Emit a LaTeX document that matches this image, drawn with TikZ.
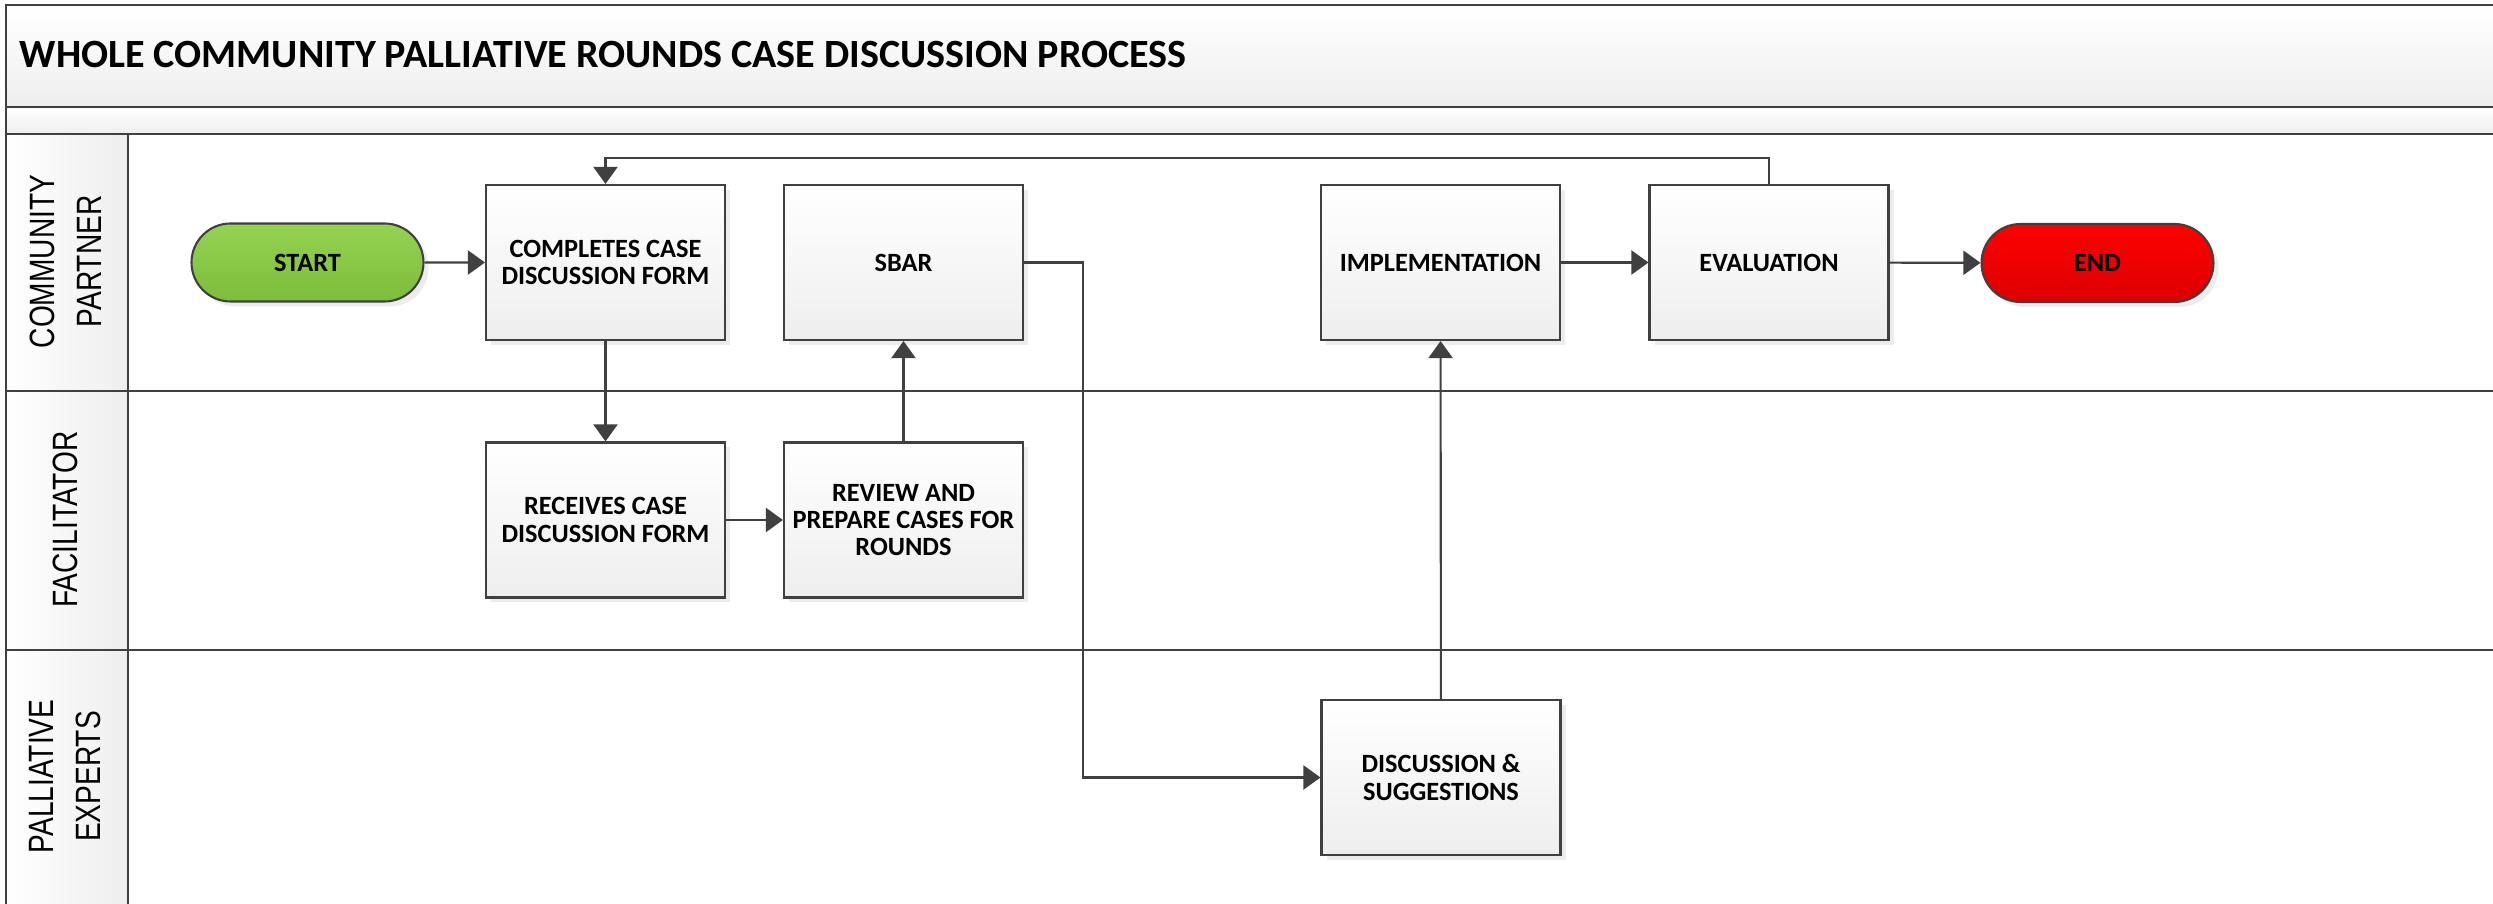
\documentclass[tikz,border=0pt]{standalone}
\usepackage{amsmath}
\usepackage{fontspec}
\setmainfont{Carlito}
\newfontfamily\lanefont[FakeStretch=0.8]{Liberation Sans}
\usepackage{tikz}
\usetikzlibrary{arrows.meta,shapes.misc,shadows}

\definecolor{linegray}{RGB}{64,64,64}
\definecolor{headgray}{RGB}{238,238,238}
\definecolor{startgreen}{RGB}{148,210,82}
\definecolor{startgreendk}{RGB}{126,188,60}
\definecolor{endred}{RGB}{255,0,0}
\definecolor{endreddk}{RGB}{220,0,0}

\tikzset{
  procbox/.style={draw=linegray, line width=0.6pt, top color=white, bottom color=headgray,
    minimum width=2.39cm, minimum height=1.55cm, align=center, inner sep=1pt,
    font=\bfseries\fontsize{7.5}{7.8}\selectfont,
    drop shadow={shadow xshift=0.05cm, shadow yshift=-0.05cm, opacity=0.15}},
  termnode/.style={rounded rectangle, draw=linegray, line width=0.6pt,
    minimum width=2.39cm, minimum height=0.78cm, inner sep=1pt,
    font=\bfseries\fontsize{7.5}{7.8}\selectfont,
    drop shadow={shadow xshift=0.05cm, shadow yshift=-0.05cm, opacity=0.15}},
  flow/.style={draw=linegray, line width=0.6pt, -{Triangle[length=1.7mm,width=2.4mm]}},
  laneline/.style={draw=linegray, line width=0.8pt},
  lanelabel/.style={rotate=90, align=center, inner sep=0pt, font=\lanefont\fontsize{10}{13.3}\selectfont}
}

\begin{document}
\begin{tikzpicture}
\useasboundingbox (0,0) rectangle (24.93,-9.04);
% pool header and lane column
\shade[top color=white, bottom color=headgray] (0.06,-0.05) rectangle (24.93,-1.07); % title band
\shade[top color=white, bottom color=headgray] (0.06,-1.07) rectangle (24.93,-1.34); % spacer band
\shade[left color=white, right color=headgray] (0.06,-1.34) rectangle (1.28,-9.04); % lane column
\draw[laneline] (24.93,-0.05) -- (0.06,-0.05) -- (0.06,-9.04) ; % frame
\draw[laneline] (0.06,-1.07) -- (24.93,-1.07) ;
\draw[laneline] (0.06,-1.34) -- (24.93,-1.34) ;
\draw[laneline] (0.06,-3.91) -- (24.93,-3.91) ; % lane 1 / 2
\draw[laneline] (0.06,-6.50) -- (24.93,-6.50) ; % lane 2 / 3
\draw[laneline] (1.28,-1.34) -- (1.28,-9.04) ;
\node[anchor=west, inner sep=0pt, font=\bfseries\fontsize{11.4}{13}\selectfont] (title) at (0.19,-0.55) {WHOLE COMMUNITY PALLIATIVE ROUNDS CASE DISCUSSION PROCESS};

% lane names
\node[lanelabel] (lanecp) at (0.66,-2.615) {COMMUNITY\\PARTNER};
\node[lanelabel] (lanefac) at (0.655,-5.195) {FACILITATOR};
\node[lanelabel] (lanepe) at (0.65,-7.765) {PALLIATIVE\\EXPERTS};

% steps
\node[termnode, top color=startgreen, bottom color=startgreendk] (start) at (3.075,-2.625) {START};
\node[procbox] (completes) at (6.055,-2.625) {COMPLETES CASE\\DISCUSSION FORM};
\node[procbox] (sbar) at (9.035,-2.625) {SBAR};
\node[procbox] (implement) at (14.405,-2.625) {IMPLEMENTATION};
\node[procbox] (evaluate) at (17.69,-2.625) {EVALUATION};
\node[termnode, top color=endred, bottom color=endreddk] (finish) at (20.975,-2.63) {END};
\node[procbox] (receives) at (6.055,-5.2) {RECEIVES CASE\\DISCUSSION FORM};
\node[procbox] (review) at (9.035,-5.2) {REVIEW AND\\PREPARE CASES FOR\\ROUNDS};
\node[procbox] (discuss) at (14.41,-7.775) {DISCUSSION \&\\SUGGESTIONS};

% flow
\draw[flow] (start) -- (completes);
\draw[flow] (completes) -- (receives);
\draw[flow] (receives) -- (review);
\draw[flow] (review) -- (sbar);
\draw[flow] (sbar.east) -- ++(0.59,0) |- (discuss.west);
\draw[flow] (discuss) -- (implement);
\draw[flow] (implement) -- (evaluate);
\draw[flow] (evaluate) -- (finish);
\draw[flow] (evaluate.north) -- ++(0,0.26) -| (completes.north);
\end{tikzpicture}
\end{document}
